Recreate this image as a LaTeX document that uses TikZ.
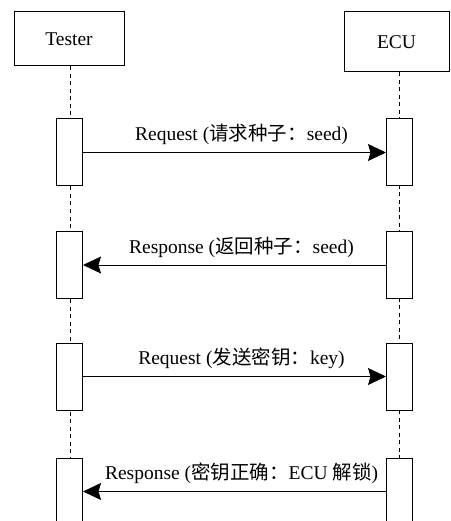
\documentclass[tikz,border=0pt]{standalone}
\usepackage{fontspec}
\setmainfont{Liberation Serif}
\newfontfamily\cjk{Noto Sans CJK SC}
\usetikzlibrary{arrows.meta}
\begin{document}
\begin{tikzpicture}[x=1pt,y=-1pt,
  actor/.style={draw, line width=1pt, fill=white, inner sep=0pt, font=\fontsize{19.5}{23}\selectfont},
  act/.style={draw, line width=1pt, fill=white, minimum width=26pt, minimum height=67pt, inner sep=0pt},
  life/.style={line width=1pt, dash pattern=on 4pt off 3.5pt},
  msg/.style={line width=1pt, -{Stealth[length=18pt,width=17pt,inset=2.5pt]}},
  lbl/.style={font=\fontsize{19.5}{23}\selectfont, anchor=base, inner sep=0pt}]
\clip (0,0) rectangle (450,521);
\fill[white] (0,0) rectangle (450,521);
% actors
\node[actor, minimum width=110pt, minimum height=54pt] (tester) at (69,39) {Tester};
\node[actor, minimum width=105pt, minimum height=60pt] (ecu) at (396.5,42) {ECU};
% lifelines
\coordinate (tend) at (70,530);
\coordinate (eend) at (399,530);
\draw[life] (tester.south -| tend) -- (tend);
\draw[life] (ecu.south -| eend) -- (eend);
% activations
\node[act] (t1) at (69.5,152.5) {};
\node[act] (e1) at (399.5,152.5) {};
\node[act] (t2) at (69.5,265) {};
\node[act] (e2) at (399.5,265) {};
\node[act] (t3) at (69.5,376.5) {};
\node[act] (e3) at (399.5,376.5) {};
\node[act] (t4) at (69.5,491.5) {};
\node[act] (e4) at (399.5,491.5) {};
% messages
\draw[msg] (t1.east) -- (e1.west) node[lbl, midway, xshift=7pt, yshift=12pt] {Request ({\cjk 请求种子：}seed)};
\draw[msg] (e2.west) -- (t2.east) node[lbl, midway, xshift=7pt, yshift=12pt] {Response ({\cjk 返回种子：}seed)};
\draw[msg] (t3.east) -- (e3.west) node[lbl, midway, xshift=7pt, yshift=12pt] {Request ({\cjk 发送密钥：}key)};
\draw[msg] (e4.west) -- (t4.east) node[lbl, midway, xshift=7pt, yshift=12pt] {Response ({\cjk 密钥正确：}ECU {\cjk 解锁})};
\end{tikzpicture}
\end{document}
